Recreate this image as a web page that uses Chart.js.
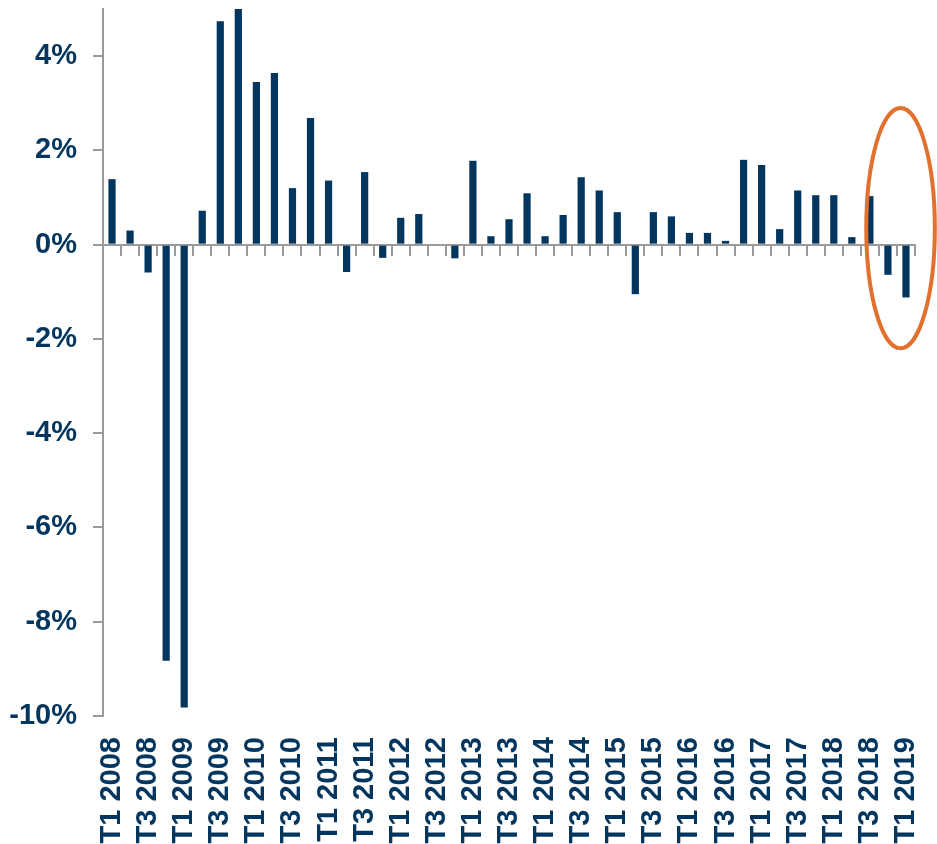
<!DOCTYPE html>
<html>
<head>
<meta charset="utf-8">
<script src="https://cdn.jsdelivr.net/npm/chart.js@4.4.1/dist/chart.umd.min.js"></script>
<style>
    html, body { margin: 0; padding: 0; background: #ffffff; }
    #wrap { width: 937px; height: 844px; }
</style>
</head>
<body>
<div id="wrap"><canvas id="growthChart" width="937" height="844"></canvas></div>
<script>
// ===== DATA =====
const quarters = [
    'T1 2008', 'T2 2008', 'T3 2008', 'T4 2008',
    'T1 2009', 'T2 2009', 'T3 2009', 'T4 2009',
    'T1 2010', 'T2 2010', 'T3 2010', 'T4 2010',
    'T1 2011', 'T2 2011', 'T3 2011', 'T4 2011',
    'T1 2012', 'T2 2012', 'T3 2012', 'T4 2012',
    'T1 2013', 'T2 2013', 'T3 2013', 'T4 2013',
    'T1 2014', 'T2 2014', 'T3 2014', 'T4 2014',
    'T1 2015', 'T2 2015', 'T3 2015', 'T4 2015',
    'T1 2016', 'T2 2016', 'T3 2016', 'T4 2016',
    'T1 2017', 'T2 2017', 'T3 2017', 'T4 2017',
    'T1 2018', 'T2 2018', 'T3 2018', 'T4 2018',
    'T1 2019'
];

// quarterly growth, %
const growth = [
    1.39, 0.30, -0.59, -8.83,
    -9.82, 0.72, 4.74, 5.00,
    3.45, 3.64, 1.20, 2.69,
    1.36, -0.58, 1.54, -0.28,
    0.57, 0.65, 0.00, -0.29,
    1.78, 0.18, 0.54, 1.09,
    0.18, 0.63, 1.43, 1.15,
    0.69, -1.05, 0.69, 0.60,
    0.25, 0.25, 0.08, 1.80,
    1.69, 0.33, 1.15, 1.05,
    1.05, 0.16, 1.03, -0.64,
    -1.12
];

const yTicks = [-10, -8, -6, -4, -2, 0, 2, 4];
const yTickLabels = ['-10%', '-8%', '-6%', '-4%', '-2%', '0%', '2%', '4%'];

// circled area (category index centre / half width, value range)
const highlight = { center: 43.7, halfWidth: 1.9, top: 2.9, bottom: -2.2 };

const NAVY = '#03365f';
const AXIS_GREY = '#9a9a9a';
const FONT = { family: "'Liberation Sans', Arial, sans-serif", size: 29, weight: 'bold' };

// ===== ELLIPSE PLUGIN =====
const ellipsePlugin = {
    id: 'highlightEllipse',
    afterDraw(chart) {
        const xs = chart.scales.x;
        const ys = chart.scales.y;
        const cx = xs.getPixelForValue(highlight.center);
        const step = xs.getPixelForValue(1) - xs.getPixelForValue(0);
        const yTop = ys.getPixelForValue(highlight.top);
        const yBot = ys.getPixelForValue(highlight.bottom);
        const ctx = chart.ctx;
        ctx.save();
        ctx.beginPath();
        ctx.ellipse(cx, (yTop + yBot) / 2, step * highlight.halfWidth, (yBot - yTop) / 2, 0, 0, Math.PI * 2);
        ctx.strokeStyle = '#e2702e';
        ctx.lineWidth = 4;
        ctx.stroke();
        ctx.restore();
    }
};

// ===== CHART =====
const ctx = document.getElementById('growthChart');

new Chart(ctx, {
    type: 'bar',
    data: {
        labels: quarters,
        datasets: [{
            data: growth,
            backgroundColor: NAVY,
            borderWidth: 0,
            categoryPercentage: 1,
            barPercentage: 0.4,
            xAxisID: 'x',
            yAxisID: 'y'
        }]
    },
    options: {
        responsive: false,
        animation: false,
        layout: {
            padding: { top: 9, right: 22, left: 0, bottom: 0 }
        },
        plugins: {
            legend: { display: false },
            tooltip: { enabled: false }
        },
        scales: {
            x: {
                type: 'category',
                position: 'bottom',
                offset: true,
                border: { display: false },
                grid: { display: false, drawTicks: false },
                ticks: {
                    autoSkip: false,
                    maxRotation: 90,
                    minRotation: 90,
                    padding: 21,
                    color: NAVY,
                    font: FONT,
                    callback: function(value, index) {
                        return index % 2 === 0 ? quarters[index] : '';
                    }
                },
                afterFit: function(scale) {
                    scale.height = 128;
                    scale.paddingLeft = 0;
                    scale.paddingRight = 0;
                }
            },
            xZero: {
                type: 'category',
                position: { y: 0 },
                offset: true,
                border: { display: true, color: AXIS_GREY, width: 2 },
                grid: {
                    display: true,
                    offset: true,
                    drawOnChartArea: false,
                    drawTicks: true,
                    tickLength: 10,
                    color: AXIS_GREY,
                    lineWidth: 2
                },
                ticks: { display: false }
            },
            y: {
                min: -10,
                max: 5,
                border: { display: true, color: AXIS_GREY, width: 2 },
                grid: {
                    drawOnChartArea: false,
                    drawTicks: true,
                    tickLength: 10,
                    color: AXIS_GREY,
                    lineWidth: 2
                },
                afterBuildTicks: function(scale) {
                    scale.ticks = yTicks.map(v => ({ value: v }));
                },
                ticks: {
                    padding: 16,
                    color: NAVY,
                    font: FONT,
                    callback: function(value) {
                        const i = yTicks.indexOf(value);
                        return i >= 0 ? yTickLabels[i] : '';
                    }
                },
                afterFit: function(scale) {
                    scale.width = 103;
                    scale.paddingTop = 0;
                    scale.paddingBottom = 0;
                }
            }
        }
    },
    plugins: [ellipsePlugin]
});
</script>
</body>
</html>
